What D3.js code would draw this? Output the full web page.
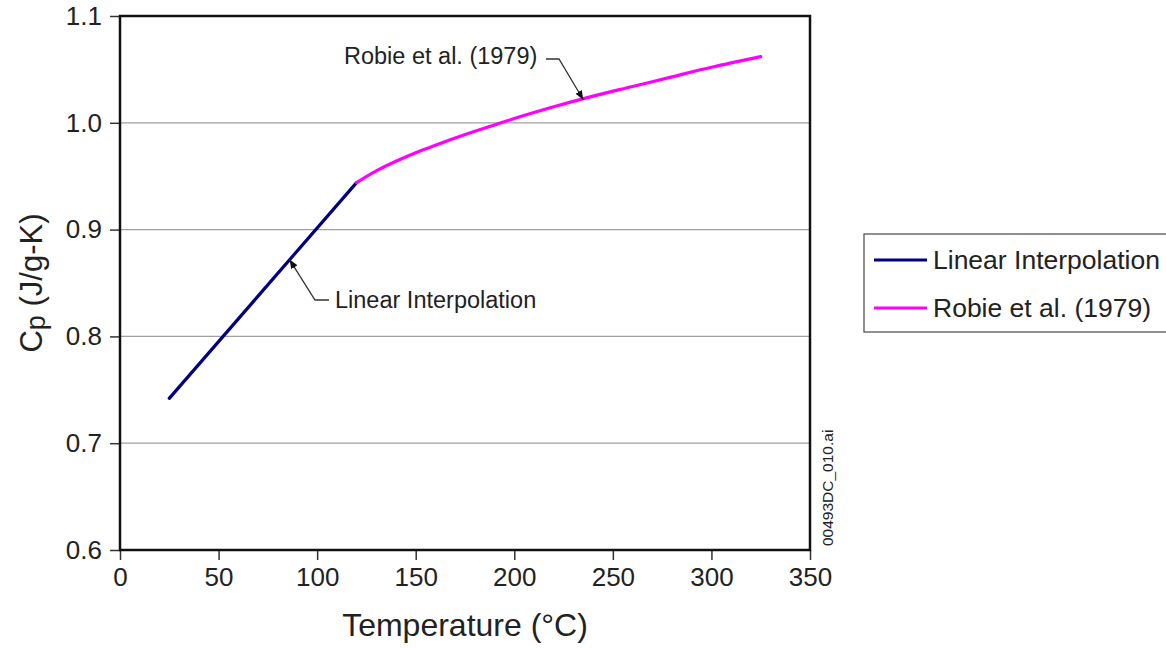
<!DOCTYPE html>
<html>
<head>
<meta charset="utf-8">
<script src="https://cdn.jsdelivr.net/npm/d3@7"></script>
<style>
  body { margin: 0; background: #fff; }
  svg { font-family: "Liberation Sans", Arial, sans-serif; }
</style>
</head>
<body>
<div id="chart"></div>
<script>
// Linear interpolation segment (T in °C, Cp in J/g-K)
const linearT = [25, 120];
const linearCp = [0.742, 0.944];

// Robie et al. (1979) segment
const robieT = [120, 130, 140, 150, 160, 180, 190, 200, 220, 240, 260, 280, 300, 325];
const robieCp = [0.944, 0.955, 0.964, 0.972, 0.979, 0.992, 0.998, 1.004, 1.015, 1.025, 1.034, 1.043, 1.052, 1.062];

const xTicks = [0, 50, 100, 150, 200, 250, 300, 350];
const yTicks = [0.6, 0.7, 0.8, 0.9, 1.0, 1.1];

const seriesNames = ["Linear Interpolation", "Robie et al. (1979)"];
const seriesColors = ["#000080", "#ff00ff"];

const width = 1166, height = 648;
const margin = { left: 120, top: 16, right: 356, bottom: 98 };

const svg = d3.select("#chart").append("svg")
    .attr("width", width)
    .attr("height", height);

const x = d3.scaleLinear().domain([0, 350]).range([margin.left, width - margin.right]);
const y = d3.scaleLinear().domain([0.6, 1.1]).range([height - margin.bottom, margin.top]);

// Gridlines
svg.append("g")
    .selectAll("line")
    .data(yTicks.filter(d => d > 0.6 && d < 1.1))
    .enter().append("line")
    .attr("x1", x(0)).attr("x2", x(350))
    .attr("y1", d => y(d)).attr("y2", d => y(d))
    .attr("stroke", "#a0a0a0")
    .attr("stroke-width", 1.3);

// Axes
const xAxis = svg.append("g")
    .attr("transform", `translate(0,${y(0.6)})`)
    .call(d3.axisBottom(x).tickValues(xTicks).tickSize(10).tickPadding(8).tickFormat(d3.format("d")));
const yAxis = svg.append("g")
    .attr("transform", `translate(${x(0)},0)`)
    .call(d3.axisLeft(y).tickValues(yTicks).tickSize(10).tickPadding(8).tickFormat(d3.format(".1f")));

[xAxis, yAxis].forEach(g => {
    g.select(".domain").remove();
    g.attr("font-size", 26).attr("font-family", "Liberation Sans, Arial, sans-serif");
    g.selectAll(".tick line").attr("stroke", "#333").attr("stroke-width", 1.5);
    g.selectAll(".tick text").attr("fill", "#222");
});

// Frame
svg.append("rect")
    .attr("x", x(0)).attr("y", y(1.1))
    .attr("width", x(350) - x(0))
    .attr("height", y(0.6) - y(1.1))
    .attr("fill", "none")
    .attr("stroke", "#111")
    .attr("stroke-width", 2.5);

// Series
const line = d3.line().x(d => x(d[0])).y(d => y(d[1]));
const seriesData = [
    d3.zip(linearT, linearCp),
    d3.zip(robieT, robieCp)
];
seriesData.forEach((pts, i) => {
    svg.append("path")
        .datum(pts)
        .attr("d", line.curve(i === 1 ? d3.curveMonotoneX : d3.curveLinear))
        .attr("fill", "none")
        .attr("stroke", seriesColors[i])
        .attr("stroke-width", 3.2)
        .attr("stroke-linecap", "round");
});

// Arrow marker
svg.append("defs").append("marker")
    .attr("id", "arrow")
    .attr("viewBox", "0 0 10 10")
    .attr("refX", 10).attr("refY", 5)
    .attr("markerWidth", 7).attr("markerHeight", 7)
    .attr("orient", "auto")
    .append("path")
    .attr("d", "M0,1 L10,5 L0,9 z")
    .attr("fill", "#111");

// Annotations
function annotate(label, textX, textY, bend, tipT, tipCp) {
    svg.append("text")
        .attr("x", textX).attr("y", textY)
        .attr("font-size", 23.5)
        .attr("fill", "#222")
        .text(label);
    svg.append("path")
        .attr("d", `M${bend[0]},${bend[1]} L${bend[2]},${bend[3]} L${x(tipT)},${y(tipCp) + (tipCp > 1 ? 1 : -1)}`)
        .attr("fill", "none")
        .attr("stroke", "#333")
        .attr("stroke-width", 1.3)
        .attr("marker-end", "url(#arrow)");
}
annotate("Robie et al. (1979)", 344, 64, [546, 59, 559, 59], 235, 1.0225);
annotate("Linear Interpolation", 335, 308, [329, 300, 315, 300], 86, 0.871);

// Axis titles
svg.append("text")
    .attr("x", (x(0) + x(350)) / 2)
    .attr("y", 636)
    .attr("text-anchor", "middle")
    .attr("font-size", 32)
    .attr("fill", "#222")
    .text("Temperature (°C)");

const yTitle = svg.append("text")
    .attr("transform", `translate(42,${(y(0.6) + y(1.1)) / 2}) rotate(-90)`)
    .attr("text-anchor", "middle")
    .attr("font-size", 31)
    .attr("fill", "#222");
yTitle.append("tspan").text("C");
yTitle.append("tspan").attr("font-size", 27).attr("dy", 3).text("p");
yTitle.append("tspan").attr("dy", -3).text(" (J/g-K)");

// Legend
const legend = svg.append("g");
legend.append("rect")
    .attr("x", 864).attr("y", 234)
    .attr("width", 320).attr("height", 98)
    .attr("fill", "#fff")
    .attr("stroke", "#555")
    .attr("stroke-width", 1.3);
seriesNames.forEach((name, i) => {
    const ly = 260 + i * 48;
    legend.append("line")
        .attr("x1", 874).attr("x2", 927)
        .attr("y1", ly).attr("y2", ly)
        .attr("stroke", seriesColors[i])
        .attr("stroke-width", 3.2);
    legend.append("text")
        .attr("x", 933).attr("y", ly + 9)
        .attr("font-size", 26.5)
        .attr("fill", "#222")
        .text(name);
});

// File stamp
svg.append("text")
    .attr("transform", `translate(833,546) rotate(-90)`)
    .attr("font-size", 15.5)
    .attr("fill", "#222")
    .text("00493DC_010.ai");
</script>
</body>
</html>
